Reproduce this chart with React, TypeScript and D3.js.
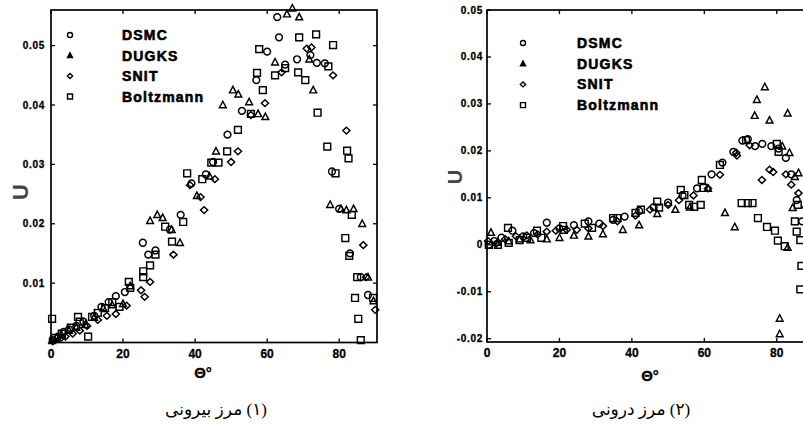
import React, { useEffect, useRef } from 'react';
import * as d3 from 'd3';

type Pt = [number, number];

const seriesNames = ['DSMC', 'DUGKS', 'SNIT', 'Boltzmann'];
const thetaTicks = [0, 20, 40, 60, 80];
const outerUTicks = [0.01, 0.02, 0.03, 0.04, 0.05];
const innerUTicks = [-0.02, -0.01, 0, 0.01, 0.02, 0.03, 0.04, 0.05];
const outerCaption = '(۱) مرز بیرونی';
const innerCaption = '(۲) مرز درونی';

// outer boundary, [theta, U]
const outerDSMC: Pt[] = [
  [0.5, 0.0005], [2, 0.001], [3.5, 0.0018], [5, 0.0022], [7, 0.0028], [9, 0.0035],
  [12, 0.0045], [14, 0.006], [16, 0.0068], [18, 0.0078], [20.5, 0.0085], [25.5, 0.0168],
  [27, 0.0148], [29, 0.0155], [33, 0.019], [36, 0.0215], [39, 0.0268], [43, 0.0283],
  [45, 0.0304], [49, 0.035], [53, 0.039], [57, 0.0442], [60, 0.049], [62.8, 0.0548],
  [63.3, 0.0514], [65, 0.0468], [68.3, 0.0477], [72, 0.0484], [73.8, 0.0471], [76, 0.047],
  [78, 0.0288], [80, 0.0225], [83, 0.015], [86, 0.011], [88, 0.008],
];
const outerDUGKS: Pt[] = [
  [0.3, 0.0003], [1.5, 0.0008], [3, 0.0012], [5, 0.002], [7, 0.0025], [9.5, 0.003],
  [12, 0.0042], [14.5, 0.0058], [17, 0.0063], [20, 0.0065], [22, 0.0095], [27.5, 0.0205],
  [29.5, 0.0215], [31, 0.021], [33.5, 0.019], [35.8, 0.0168], [40.5, 0.0247], [44, 0.028],
  [45.8, 0.0322], [47.7, 0.04], [50.5, 0.0425], [52, 0.0418], [55, 0.0405], [57.5, 0.0385],
  [59.5, 0.038], [62.2, 0.0472], [65.5, 0.0553], [67, 0.0563], [68.9, 0.0548], [71.7, 0.0477],
  [72.8, 0.0425], [77.5, 0.0232], [80.5, 0.0225], [82, 0.0223], [84, 0.0225], [86.4, 0.02],
  [88, 0.011], [89.5, 0.007],
];
const outerSNIT: Pt[] = [
  [0.5, 0.0002], [2.5, 0.0006], [4, 0.001], [6, 0.0015], [8, 0.002], [10, 0.0028],
  [13, 0.0038], [15.5, 0.0045], [18, 0.0048], [21, 0.0062], [25, 0.0088], [26, 0.0077],
  [27.5, 0.0102], [34, 0.0148], [38.6, 0.0265], [41.5, 0.0245], [42.5, 0.0223], [45.5, 0.0275],
  [50, 0.0304], [51.9, 0.0322], [55.5, 0.0383], [59.4, 0.0403], [64, 0.0455], [71, 0.0495],
  [72.3, 0.0497], [78.3, 0.045], [82, 0.0357], [86.7, 0.0164], [87.5, 0.011], [90, 0.0055],
];
const outerBoltzmann: Pt[] = [
  [0.3, 0.004], [1, 0.0008], [3, 0.0015], [5.5, 0.0025], [7.5, 0.0043], [8, 0.0035],
  [10.3, 0.001], [11.4, 0.0043], [13, 0.005], [15, 0.0058], [17, 0.0068], [19, 0.006],
  [21.6, 0.0102], [22, 0.0092], [25.6, 0.012], [25.6, 0.011], [27.5, 0.013], [29, 0.0148],
  [31.7, 0.0195], [33.6, 0.017], [36.7, 0.0203], [37.8, 0.0285], [42, 0.0275], [44.5, 0.0303],
  [46.5, 0.0303], [48.9, 0.0322], [51.9, 0.0358], [55.5, 0.0385], [57.2, 0.0454], [57.8, 0.0494],
  [58.8, 0.0425], [62.2, 0.045], [65, 0.0462], [68.6, 0.0455], [68.9, 0.0514], [70.6, 0.0442],
  [73.6, 0.0519], [74, 0.0387], [76.7, 0.033], [77, 0.0465], [78.3, 0.0501], [79, 0.0285],
  [81.7, 0.0176], [82.2, 0.0323], [82.6, 0.031], [82.8, 0.0146], [83.5, 0.0215], [84.4, 0.0075],
  [85, 0.011], [85.3, 0.004], [86, 0.0004], [89.4, 0.0075],
];

// inner boundary, [theta, U]
const innerDSMC: Pt[] = [
  [0.5, 0.0], [2, 0.0008], [4, 0.0015], [7, 0.003], [10, 0.0018], [13, 0.0025],
  [16.5, 0.0047], [20, 0.0035], [24, 0.0042], [28, 0.005], [31, 0.0045], [34.8, 0.0053],
  [38, 0.006], [42, 0.0072], [46, 0.008], [50, 0.009], [54, 0.0105], [58, 0.012],
  [62, 0.015], [65, 0.0175], [68, 0.0198], [70.5, 0.0222], [72, 0.0225], [74, 0.021],
  [76, 0.0215], [78.5, 0.021], [80.5, 0.0205], [82.5, 0.0185], [84, 0.015], [85.5, 0.0095],
  [87, 0.005], [88.5, 0.001],
];
const innerDUGKS: Pt[] = [
  [1.1, 0.0026], [3, 0.0005], [6, 0.0008], [9, 0.0012], [12, 0.001], [16.5, 0.0012],
  [20, 0.0015], [24, 0.002], [28, 0.0018], [32, 0.0023], [37.5, 0.0032], [42, 0.0042],
  [47, 0.0066], [52, 0.0075], [56, 0.008], [61, 0.012], [65.7, 0.0068], [68.4, 0.0038],
  [73.9, 0.0275], [74.5, 0.0309], [76.7, 0.0336], [78, 0.0265], [80.8, -0.0157], [80.8, -0.019],
  [81.5, 0.021], [83, 0.028], [83.5, 0.0196], [84.4, 0.0079], [85, 0.0145], [86, 0.0153],
  [83, -0.0006],
];
const innerSNIT: Pt[] = [
  [0.3, 0.0008], [2.5, 0.0002], [5, 0.0012], [8, 0.0018], [11, 0.002], [14, 0.0022],
  [16.5, 0.0028], [19, 0.003], [22, 0.0032], [24.8, 0.0032], [28, 0.0035], [32, 0.004],
  [36, 0.005], [41, 0.0062], [45, 0.0075], [50, 0.0085], [53, 0.0095], [57, 0.0105],
  [61, 0.012], [64.3, 0.0149], [68.8, 0.0196], [69, 0.019], [72.5, 0.0212], [75.9, 0.0138],
  [78, 0.016], [79, 0.0155], [82.5, 0.015], [84, 0.0128], [86, 0.011], [88, 0.008],
];
const innerBoltzmann: Pt[] = [
  [0.5, 0.0], [3, 0.0], [5.8, 0.0036], [6, 0.0004], [9, 0.001], [11, 0.0015],
  [13.8, 0.003], [15, 0.0015], [21, 0.004], [21.2, 0.0032], [27, 0.0045], [29, 0.0036],
  [34.8, 0.0057], [36, 0.0057], [41, 0.0068], [42.5, 0.0075], [47, 0.0092], [47.5, 0.0079],
  [53.5, 0.0117], [54.5, 0.0106], [55.8, 0.0085], [57.2, 0.0081], [59, 0.0085], [59.3, 0.0138],
  [59.8, 0.0121], [64.3, 0.017], [70.3, 0.0089], [71.5, 0.0223], [72, 0.0089], [73.3, 0.0089],
  [74.8, 0.0057], [77.3, 0.0038], [79.5, 0.003], [80.3, 0.0009], [80, 0.0215], [80.5, 0.0198],
  [82.2, -0.0003], [85, 0.005], [85.5, 0.0028], [85.8, 0.0085], [86.5, 0.001], [86.8, -0.0045],
  [86.5, -0.0095],
];

// marker shapes: circle, triangle, diamond, square
const markerPath = (i: number, r: number) => {
  if (i === 0) return `M${r},0A${r},${r} 0 1,1 ${-r},0A${r},${r} 0 1,1 ${r},0Z`;
  if (i === 1) return `M0,${-r * 1.1}L${r},${r * 0.8}L${-r},${r * 0.8}Z`;
  if (i === 2) return `M${-r * 1.05},0L0,${-r}L${r * 1.05},0L0,${r}Z`;
  return `M${-r},${-r}H${r}V${r}H${-r}Z`;
};

const tickFont = "'Liberation Sans', Arial, sans-serif";

function drawPanel(g: any, o: any) {
  const x = d3.scaleLinear().domain(o.xDomain).range(o.xRange);
  const y = d3.scaleLinear().domain(o.yDomain).range(o.yRange);
  const [x0, x1] = o.xRange;
  const [y0, y1] = o.yRange;

  o.series.forEach((data: Pt[], i: number) => {
    g.append('g')
      .selectAll('path')
      .data(data)
      .join('path')
      .attr('transform', (d: Pt) => `translate(${x(d[0])},${y(d[1])})`)
      .attr('d', markerPath(i, 3.4))
      .attr('fill', 'none')
      .attr('stroke', '#000')
      .attr('stroke-width', 1.45);
  });

  // frame
  g.append('rect')
    .attr('x', x0).attr('y', y1)
    .attr('width', x1 - x0).attr('height', y0 - y1)
    .attr('fill', 'none').attr('stroke', '#000').attr('stroke-width', 1.7);

  // ticks inward on all sides
  thetaTicks.forEach((t) => {
    g.append('line').attr('x1', x(t)).attr('x2', x(t)).attr('y1', y0).attr('y2', y0 - 4)
      .attr('stroke', '#000').attr('stroke-width', 1.3);
    g.append('line').attr('x1', x(t)).attr('x2', x(t)).attr('y1', y1).attr('y2', y1 + 4)
      .attr('stroke', '#000').attr('stroke-width', 1.3);
    g.append('text').attr('x', x(t)).attr('y', y0 + 15)
      .attr('text-anchor', 'middle')
      .attr('stroke', '#000').attr('stroke-width', 0.3)
      .style('font', `bold 12px ${tickFont}`)
      .text(t);
  });
  o.yTicks.forEach((t: number) => {
    g.append('line').attr('x1', x0).attr('x2', x0 + 4).attr('y1', y(t)).attr('y2', y(t))
      .attr('stroke', '#000').attr('stroke-width', 1.3);
    g.append('line').attr('x1', x1).attr('x2', x1 - 4).attr('y1', y(t)).attr('y2', y(t))
      .attr('stroke', '#000').attr('stroke-width', 1.3);
    g.append('text').attr('x', x0 - o.labelGap).attr('y', y(t)).attr('dy', '0.35em')
      .attr('text-anchor', 'end')
      .attr('stroke', '#000').attr('stroke-width', 0.3)
      .style('font', `bold 10px ${tickFont}`)
      .style('letter-spacing', '0.7px')
      .text(t === 0 ? '0' : d3.format('.2f')(t).replace('−', '-'));
  });

  // legend
  seriesNames.forEach((name, i) => {
    const ly = o.legend.y + i * o.legend.step;
    g.append('path')
      .attr('transform', `translate(${o.legend.sx},${ly})`)
      .attr('d', markerPath(i, 2.5))
      .attr('fill', i === 1 ? '#000' : 'none')
      .attr('stroke', '#000').attr('stroke-width', 1.4);
    g.append('text').attr('x', o.legend.tx).attr('y', ly).attr('dy', '0.36em')
      .attr('stroke', '#000').attr('stroke-width', 0.6)
      .style('font', `bold 14px ${tickFont}`)
      .style('letter-spacing', '1.2px')
      .text(name);
  });

  // axis titles
  g.append('text')
    .attr('transform', `translate(${o.uPos[0]},${o.uPos[1]}) rotate(-90)`)
    .attr('text-anchor', 'middle')
    .attr('dy', '0.35em')
    .attr('fill', '#444')
    .style('font', `bold ${o.uSize}px ${tickFont}`)
    .text('U');
  g.append('text')
    .attr('x', o.thetaPos[0]).attr('y', o.thetaPos[1])
    .attr('text-anchor', 'middle')
    .attr('stroke', '#000').attr('stroke-width', 0.3)
    .style('font', `bold 15px ${tickFont}`)
    .text('Θ°');

  g.append('text')
    .attr('x', o.caption[0]).attr('y', o.caption[1])
    .attr('text-anchor', 'middle')
    .attr('direction', 'rtl')
    .style('font', "17px 'Liberation Serif', 'DejaVu Sans', serif")
    .text(o.captionText);
}

const App = () => {
  const svgRef = useRef<SVGSVGElement>(null);

  useEffect(() => {
    const svg = d3.select(svgRef.current);
    svg.selectAll('*').remove();

    drawPanel(svg.append('g'), {
      xDomain: [0, 90.5], xRange: [51, 377],
      yDomain: [0, 0.056], yRange: [342.5, 10],
      yTicks: outerUTicks, labelGap: 6,
      series: [outerDSMC, outerDUGKS, outerSNIT, outerBoltzmann],
      legend: { sx: 70, tx: 122, y: 35, step: 20.5 },
      uPos: [20, 192], uSize: 22,
      thetaPos: [203, 378],
      caption: [216, 415], captionText: outerCaption,
    });

    drawPanel(svg.append('g'), {
      xDomain: [0, 90], xRange: [487, 813],
      yDomain: [-0.0207, 0.05], yRange: [342, 10],
      yTicks: innerUTicks, labelGap: 4,
      series: [innerDSMC, innerDUGKS, innerSNIT, innerBoltzmann],
      legend: { sx: 523, tx: 577, y: 43, step: 20.7 },
      uPos: [455, 177], uSize: 20,
      thetaPos: [650, 381],
      caption: [641, 415], captionText: innerCaption,
    });
  }, []);

  return (
    <svg
      ref={svgRef}
      width={803}
      height={427}
      style={{ position: 'absolute', left: 0, top: 0, background: '#fff' }}
    />
  );
};

export default App;
